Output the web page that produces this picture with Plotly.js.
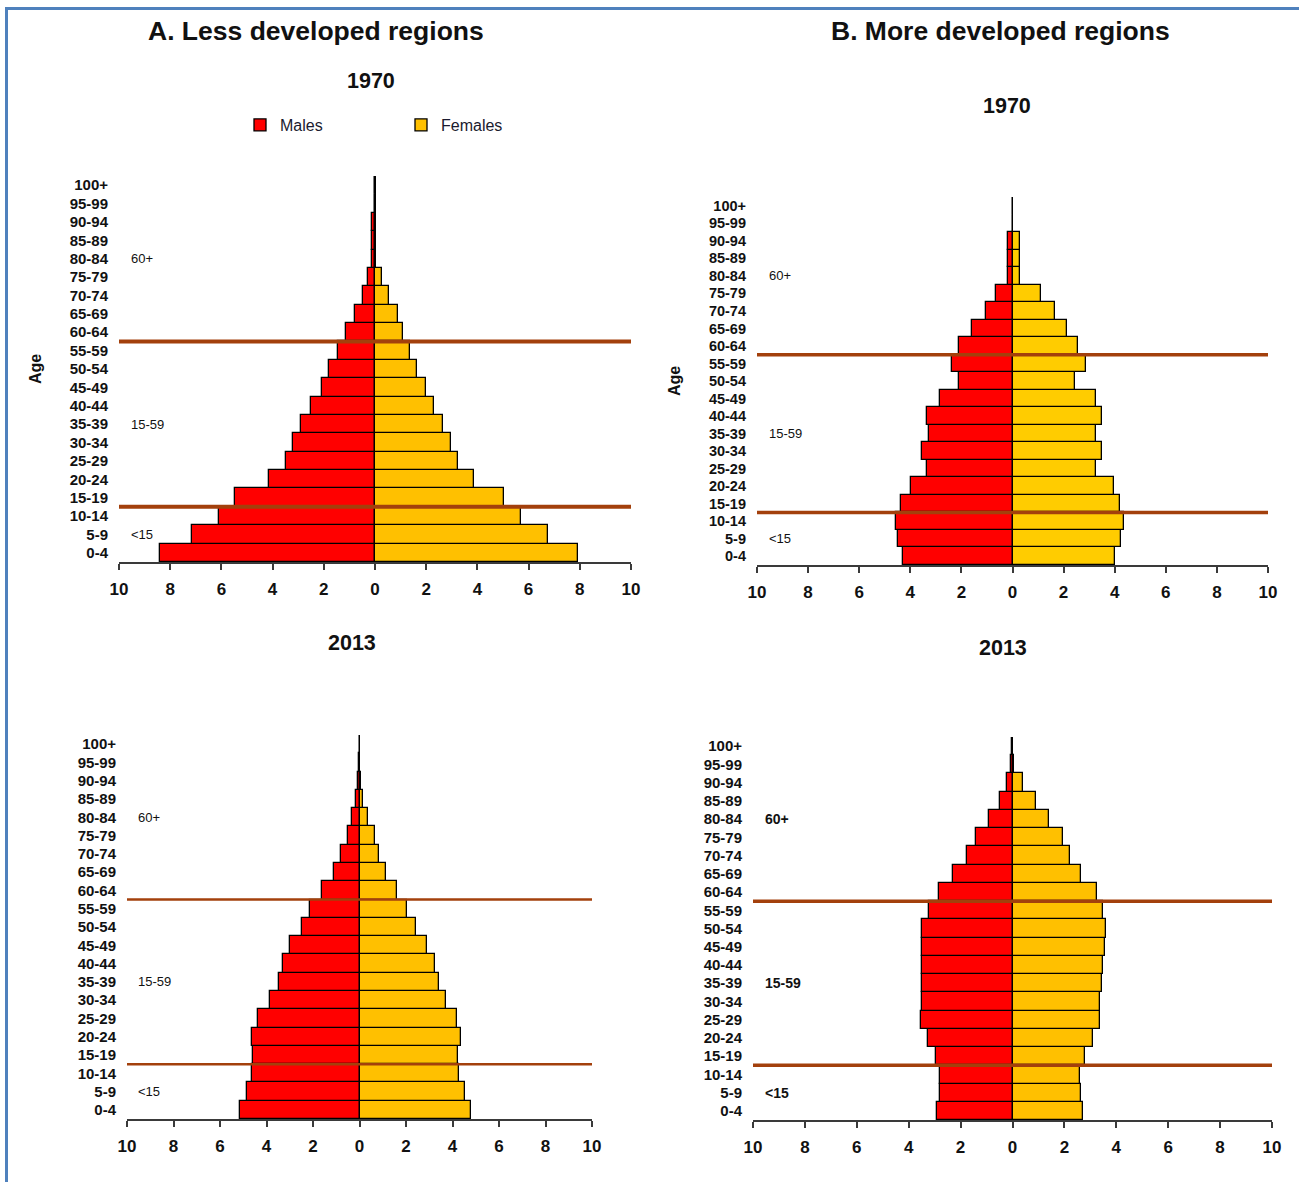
<!DOCTYPE html>
<html>
<head>
<meta charset="utf-8">
<script src="https://cdn.plot.ly/plotly-3.0.1.min.js"></script>
<style>
  html, body { margin: 0; padding: 0; background: #fff; }
  #wrap { position: relative; width: 1299px; height: 1182px; overflow: hidden; }
  #chart { position: absolute; left: 0; top: 0; width: 1299px; height: 1182px; }
  #frame { position: absolute; left: 5px; top: 7px; width: 1400px; height: 1300px;
           border-left: 3px solid #4F81BD; border-top: 3px solid #4F81BD; pointer-events: none; }
</style>
</head>
<body>
<div id="wrap"><div id="chart"></div><div id="frame"></div></div>
<script>
// ---------------- DATA ----------------
const ages = ["0-4","5-9","10-14","15-19","20-24","25-29","30-34","35-39","40-44","45-49",
              "50-54","55-59","60-64","65-69","70-74","75-79","80-84","85-89","90-94","95-99","100+"];

const lessMales1970   = [8.40,7.16,6.10,5.46,4.15,3.48,3.21,2.89,2.51,2.06,1.79,1.45,1.13,0.80,0.48,0.26,0.13,0.11,0.11,0,0];
const lessFemales1970 = [7.92,6.74,5.69,5.05,3.88,3.24,2.96,2.64,2.30,1.98,1.65,1.36,1.10,0.89,0.56,0.29,0,0,0,0,0];

const moreMales1970   = [4.28,4.49,4.56,4.38,3.98,3.34,3.55,3.27,3.34,2.85,2.09,2.35,2.09,1.60,1.05,0.66,0.16,0.16,0.16,0,0];
const moreFemales1970 = [4.03,4.24,4.36,4.19,3.98,3.27,3.49,3.27,3.49,3.27,2.45,2.88,2.55,2.12,1.68,1.13,0.31,0.31,0.31,0,0];

const lessMales2013   = [5.16,4.85,4.62,4.57,4.62,4.37,3.85,3.48,3.31,3.01,2.47,2.12,1.63,1.08,0.79,0.49,0.31,0.14,0.05,0.02,0];
const lessFemales2013 = [4.79,4.53,4.30,4.25,4.36,4.18,3.71,3.41,3.24,2.92,2.43,2.03,1.61,1.12,0.82,0.65,0.35,0.17,0.05,0.02,0];

const moreMales2013   = [2.90,2.78,2.78,2.94,3.27,3.54,3.48,3.48,3.48,3.48,3.48,3.22,2.85,2.30,1.76,1.39,0.91,0.47,0.21,0.06,0.01];
const moreFemales2013 = [2.73,2.64,2.59,2.80,3.12,3.38,3.38,3.45,3.50,3.56,3.59,3.50,3.24,2.64,2.20,1.93,1.41,0.92,0.42,0.06,0.01];

const xTickVals  = [-10,-8,-6,-4,-2,0,2,4,6,8,10];
const xTickText  = ["10","8","6","4","2","0","2","4","6","8","10"];

const groupLabels = ["60+","15-59","<15"];
const groupRows   = ["80-84","35-39","5-9"];
const groupBounds = [2.5, 11.5];   // boundaries between "10-14"/"15-19" and "55-59"/"60-64"

const regionTitles = ["A. Less developed regions","B. More developed regions"];
const yearTitles   = ["1970","2013"];
const seriesNames  = ["Males","Females"];

// ---------------- STYLE / LAYOUT ----------------
const W = 1299, H = 1182;
const FONT = "Arial, 'Liberation Sans', sans-serif";
const RED = "#FF0000";
const BROWN = "#A3400C";

const panels = [
  {m: lessMales1970, f: lessFemales1970, x:[119,631], y:[176,562], fc:"#FFC000", age:true,  lw:4,   boldGroup:false, tf:15},
  {m: moreMales1970, f: moreFemales1970, x:[757,1268], y:[197,565], fc:"#FFCC00", age:true, lw:3.5, boldGroup:false, tf:14.5},
  {m: lessMales2013, f: lessFemales2013, x:[127,592], y:[735,1119], fc:"#FFC000", age:false, lw:2.5, boldGroup:false, tf:15},
  {m: moreMales2013, f: moreFemales2013, x:[753,1272], y:[737,1120], fc:"#FFC000", age:false, lw:3.5, boldGroup:true, tf:15}
];

const traces = [];
const layout = {
  width: W, height: H,
  margin: {l:0, r:0, t:0, b:0},
  paper_bgcolor: "#fff", plot_bgcolor: "rgba(0,0,0,0)",
  font: {family: FONT, color: "#111"},
  barmode: "overlay", bargap: 0,
  showlegend: true,
  legend: {orientation: "h", x: 240/W, y: 1 - 108/H, xanchor: "left", yanchor: "top",
           font: {family: FONT, size: 16, color: "#1a1a2e"}, bgcolor: "rgba(0,0,0,0)",
           entrywidth: 116, entrywidthmode: "pixels", itemclick: false, itemdoubleclick: false},
  annotations: [], shapes: []
};

panels.forEach((p, i) => {
  const n = i + 1;
  const xa = n === 1 ? "x" : "x" + n;
  const ya = n === 1 ? "y" : "y" + n;
  const xk = n === 1 ? "xaxis" : "xaxis" + n;
  const yk = n === 1 ? "yaxis" : "yaxis" + n;

  traces.push({
    type: "bar", orientation: "h", name: seriesNames[0],
    y: ages, x: p.m.map(v => -v), xaxis: xa, yaxis: ya,
    marker: {color: RED, line: {color: "#000", width: 1.3}},
    showlegend: i === 0, legendrank: 1,
    hovertemplate: "%{y}: %{customdata}%<extra>Males</extra>", customdata: p.m
  });
  traces.push({
    type: "bar", orientation: "h", name: seriesNames[1],
    y: ages, x: p.f, xaxis: xa, yaxis: ya,
    marker: {color: p.fc, line: {color: "#000", width: 1.3}},
    showlegend: i === 0, legendrank: 2,
    hovertemplate: "%{y}: %{x}%<extra>Females</extra>"
  });

  layout[xk] = {
    domain: [p.x[0]/W, p.x[1]/W], anchor: ya,
    range: [-10, 10], fixedrange: true,
    tickvals: xTickVals, ticktext: xTickText,
    showline: true, linecolor: "#3a3a3a", linewidth: 1.5,
    ticks: "outside", ticklen: 6, tickwidth: 1.5, tickcolor: "#3a3a3a",
    tickfont: {family: FONT, size: 17, color: "#111", weight: "bold"},
    ticklabelstandoff: 5,
    showgrid: false, zeroline: true, zerolinecolor: "#000", zerolinewidth: 1.3
  };
  layout[yk] = {
    domain: [1 - p.y[1]/H, 1 - p.y[0]/H], anchor: xa,
    type: "category", categoryorder: "array", categoryarray: ages,
    range: [-0.5, ages.length - 0.5], fixedrange: true,
    tickmode: "array", tickvals: ages, ticktext: ages,
    showline: false, showgrid: false, zeroline: false, ticks: "",
    tickfont: {family: FONT, size: p.tf, color: "#111", weight: "bold"},
    ticklabelstandoff: 10, automargin: false,
    title: p.age ? {text: "Age", font: {family: FONT, size: 16, weight: "bold", color: "#111"}, standoff: 24} : {text: ""}
  };

  groupBounds.forEach(b => {
    layout.shapes.push({type: "line", xref: xa, yref: ya, x0: -10, x1: 10, y0: b, y1: b,
                        line: {color: BROWN, width: p.lw}, layer: "above"});
  });

  groupLabels.forEach((g, k) => {
    layout.annotations.push({
      xref: xa, yref: ya, x: -9.6, y: groupRows[k], text: g.replace("<", "&lt;"),
      showarrow: false, xanchor: "left", yanchor: "middle",
      font: {family: FONT, size: p.boldGroup ? 14 : 13, color: "#111", weight: p.boldGroup ? "bold" : "normal"}
    });
  });
});

// titles
const titleSpecs = [
  {t: regionTitles[0], x: 316, y: 31, s: 26.5},
  {t: regionTitles[1], x: 1000, y: 31, s: 26.5},
  {t: yearTitles[0], x: 371, y: 81, s: 21.5},
  {t: yearTitles[0], x: 1007, y: 106, s: 21.5},
  {t: yearTitles[1], x: 352, y: 643, s: 21.5},
  {t: yearTitles[1], x: 1003, y: 648, s: 21.5}
];
titleSpecs.forEach(o => {
  layout.annotations.push({xref: "paper", yref: "paper", x: o.x/W, y: 1 - o.y/H,
    xanchor: "center", yanchor: "middle", showarrow: false, text: o.t,
    font: {family: FONT, size: o.s, color: "#111", weight: "bold"}});
});

Plotly.newPlot("chart", traces, layout, {displayModeBar: false, staticPlot: false, responsive: false});
</script>
</body>
</html>
